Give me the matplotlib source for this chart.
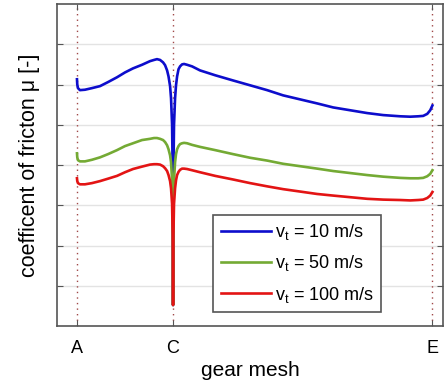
import matplotlib
matplotlib.use("Agg")
import matplotlib.pyplot as plt

plt.rcParams["font.family"] = ["Liberation Sans", "DejaVu Sans"]

# gear mesh position: A = 0, C (pitch point) = 1, E = 3.7
mesh_x = [0, 0.003, 0.010, 0.031, 0.083, 0.156, 0.240, 0.323, 0.417, 0.500,
          0.583, 0.677, 0.760, 0.802, 0.833, 0.865, 0.896, 0.917, 0.938, 0.953,
          0.969, 0.979, 0.990, 0.996, 1.0, 1.004, 1.010, 1.021, 1.031, 1.042,
          1.057, 1.073, 1.094, 1.115, 1.146, 1.198, 1.281, 1.438, 1.625, 1.802,
          1.979, 2.146, 2.323, 2.5, 2.667, 2.844, 3.021, 3.188, 3.365, 3.469,
          3.552, 3.604, 3.646, 3.677, 3.7]

mu_10 = [6.13, 6.00, 5.91, 5.86, 5.87, 5.91, 5.96, 6.06, 6.18, 6.30,
         6.40, 6.49, 6.58, 6.61, 6.63, 6.61, 6.55, 6.48, 6.35, 6.20,
         5.96, 5.66, 4.99, 3.87, 0.52, 3.87, 4.99, 5.66, 5.98, 6.20,
         6.38, 6.45, 6.50, 6.51, 6.49, 6.45, 6.35, 6.23, 6.10, 5.98,
         5.86, 5.73, 5.63, 5.53, 5.43, 5.36, 5.29, 5.24, 5.21, 5.20,
         5.21, 5.22, 5.27, 5.36, 5.48]

mu_50 = [4.29, 4.19, 4.12, 4.09, 4.09, 4.13, 4.19, 4.27, 4.37, 4.47,
         4.54, 4.62, 4.65, 4.67, 4.67, 4.65, 4.62, 4.57, 4.49, 4.39,
         4.24, 4.07, 3.62, 2.75, 0.52, 2.75, 3.62, 4.07, 4.27, 4.39,
         4.47, 4.52, 4.54, 4.55, 4.54, 4.50, 4.45, 4.37, 4.27, 4.18,
         4.11, 4.03, 3.97, 3.91, 3.85, 3.80, 3.75, 3.71, 3.68, 3.67,
         3.67, 3.68, 3.72, 3.78, 3.87]

mu_100 = [3.67, 3.60, 3.55, 3.52, 3.52, 3.55, 3.60, 3.66, 3.73, 3.82,
          3.90, 3.96, 4.01, 4.02, 4.02, 4.01, 3.97, 3.92, 3.85, 3.75,
          3.60, 3.42, 3.03, 2.26, 0.52, 2.26, 3.03, 3.42, 3.62, 3.75,
          3.83, 3.88, 3.91, 3.91, 3.90, 3.87, 3.82, 3.73, 3.64, 3.55,
          3.47, 3.40, 3.34, 3.28, 3.24, 3.20, 3.16, 3.14, 3.13, 3.12,
          3.13, 3.14, 3.18, 3.24, 3.33]

mesh_pos = [0, 1, 3.7]
mesh_labels = ["A", "C", "E"]
y_ticks = [1, 2, 3, 4, 5, 6, 7]

fig = plt.figure(figsize=(4.44, 3.88), dpi=100)
ax = fig.add_axes([57 / 444, 62 / 388, 386 / 444, 322 / 388])

for yv in y_ticks:
    ax.axhline(yv, color="#e3e3e3", lw=1.0, zorder=0)
for xv in mesh_pos:
    ax.axvline(xv, color="#a04848", lw=1.0, ls=(0, (1, 3)), zorder=1)

ax.plot(mesh_x, mu_10, color="#0d0dcc", lw=1.9, label=r"v$_\mathregular{t}$ = 10 m/s", zorder=3)
ax.plot(mesh_x, mu_50, color="#74aa34", lw=1.9, label=r"v$_\mathregular{t}$ = 50 m/s", zorder=4)
ax.plot(mesh_x, mu_100, color="#e31414", lw=1.9, label=r"v$_\mathregular{t}$ = 100 m/s", zorder=5)

ax.set_xlim(-0.208, 3.81)
ax.set_ylim(0, 8)
ax.set_yticks(y_ticks)
ax.set_yticklabels([])
ax.set_xticks(mesh_pos)
ax.set_xticklabels(mesh_labels, fontsize=13)
ax.tick_params(axis="both", direction="in", length=4, color="#555555",
               top=True, right=True)
ax.tick_params(axis="x", pad=10)
for sp in ax.spines.values():
    sp.set_color("#555555")
    sp.set_linewidth(1.2)

ax.set_xlabel("gear mesh", fontsize=15, labelpad=3)
ax.set_ylabel("coefficent of fricton μ [-]", fontsize=15.5, labelpad=9)

leg = ax.legend(loc="lower left", bbox_to_anchor=(0.404, 0.043), borderaxespad=0,
                fontsize=13, handlelength=2.8, handletextpad=0.2,
                labelspacing=0.62, fancybox=False, framealpha=1,
                edgecolor="#555555", borderpad=0.42)
leg.get_frame().set_linewidth(1.2)

fig.savefig("out.png", dpi=100)
